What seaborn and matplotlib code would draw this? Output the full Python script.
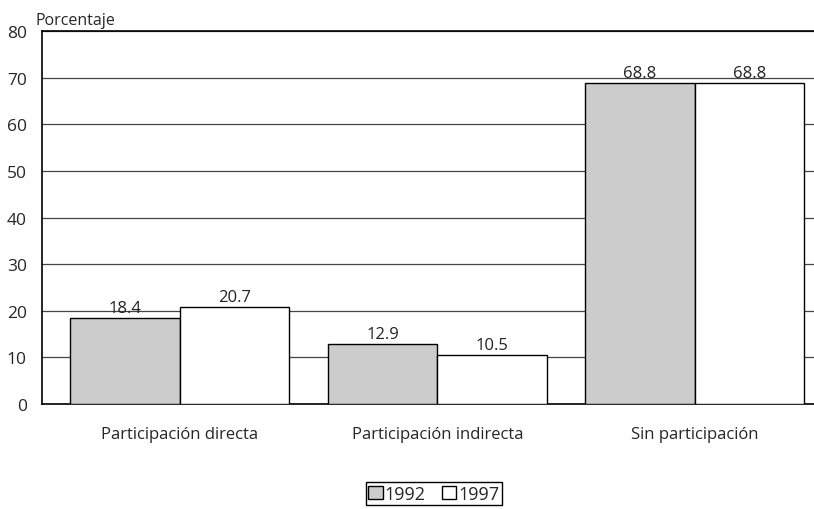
import pandas as pd
import matplotlib
matplotlib.use("Agg")
import matplotlib.pyplot as plt
import seaborn as sns

categories = ["Participación directa", "Participación indirecta", "Sin participación"]
years = ["1992", "1997"]
values_1992 = [18.4, 12.9, 68.8]
values_1997 = [20.7, 10.5, 68.8]

df = pd.DataFrame({
    "categoria": categories * 2,
    "anio": [years[0]] * 3 + [years[1]] * 3,
    "valor": values_1992 + values_1997,
})

sns.set_style("white")
plt.rcParams["font.family"] = ["Open Sans", "DejaVu Sans"]

fig = plt.figure(figsize=(8.14, 5.10), dpi=100)
ax = fig.add_axes([0.0516, 0.206, 0.9484, 0.731])

sns.barplot(data=df, x="categoria", y="valor", hue="anio", order=categories,
            hue_order=years, palette=["#cccccc", "#ffffff"], width=0.852,
            edgecolor="black", linewidth=1.0, ax=ax, legend=True, zorder=3)

ax.set_ylim(0, 80)
ax.set_yticks(range(0, 81, 10))
ax.set_xlim(-0.535, 2.463)
ax.yaxis.grid(True, color="#444444", linewidth=0.9, zorder=0)
ax.set_axisbelow(True)
for side in ["left", "top", "bottom"]:
    ax.spines[side].set_visible(True)
    ax.spines[side].set_color("black")
    ax.spines[side].set_linewidth(1.2)
ax.spines["right"].set_visible(False)
ax.tick_params(axis="y", length=0, pad=11, labelsize=12.5)
ax.tick_params(axis="x", length=0, pad=16, labelsize=12)
ax.set_xlabel("")
ax.set_ylabel("")

for cont in ax.containers:
    ax.bar_label(cont, fmt="%.1f", padding=1.5, fontsize=12, color="#222222")

ax.text(-0.008, 1.008, "Porcentaje", transform=ax.transAxes, ha="left",
        va="bottom", fontsize=11.5)

handles, labels = ax.get_legend_handles_labels()
ax.get_legend().remove()
fig.legend(handles, labels, loc="upper center", bbox_to_anchor=(0.533, 0.053),
           ncol=2, frameon=True, fancybox=False, edgecolor="black",
           framealpha=1, fontsize=13, handlelength=0.8, handleheight=0.7,
           handletextpad=0.1, columnspacing=0.9, borderpad=0.15,
           borderaxespad=0)

fig.savefig("out.png", dpi=100)
